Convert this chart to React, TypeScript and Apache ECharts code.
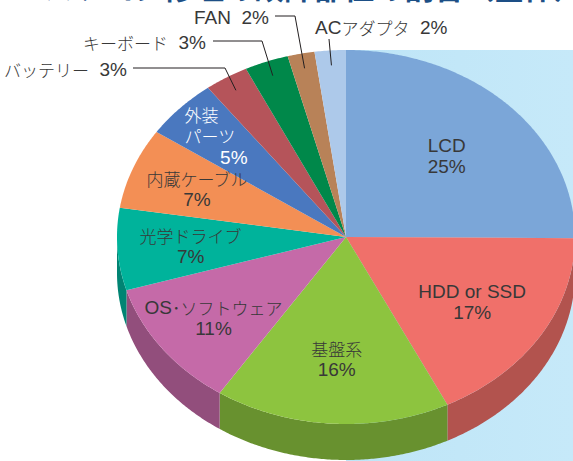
import React, { useEffect, useRef } from "react";
import * as echarts from "echarts";

// ---- data ----
const categories = [
  "LCD",
  "HDD or SSD",
  "基盤系",
  "OS･ソフトウェア",
  "光学ドライブ",
  "内蔵ケーブル",
  "外装パーツ",
  "バッテリー",
  "キーボード",
  "FAN",
  "ACアダプタ",
];
const values = [25.1, 17.6, 16.6, 11.1, 7.1, 7.0, 5.2, 3.1, 3.1, 1.9, 2.2];
const percentLabels = ["25%", "17%", "16%", "11%", "7%", "7%", "5%", "3%", "3%", "2%", "2%"];
const colors = [
  "#7BA6D8",
  "#F0706A",
  "#8DC43F",
  "#C56AA8",
  "#00B39B",
  "#F38F55",
  "#4A78BF",
  "#B5545A",
  "#00884A",
  "#B88258",
  "#ADC9EA",
];
const titleText = "パソコン修理の故障部位の割合（全体）";

// ---- layout (not data) ----
const CX = 346;
const CY = 237;
const RX = 229;
const RY = 187;
const DEPTH = 36;
const innerLabelRadius = [0.62, 0.65, 0.65, 0.72, 0.68, 0.7, 0.78];
const outerLabels: Record<number, { anchor: [number, number]; align: string; path: [number, number][] }> = {
  7: { anchor: [127, 69], align: "right", path: [[133, 68], [225, 68]] },
  8: { anchor: [206, 42], align: "right", path: [[213, 41], [262, 41]] },
  9: { anchor: [269, 17], align: "right", path: [[275, 16], [295, 16]] },
  10: { anchor: [315, 27], align: "left", path: [[329, 39]] },
};

const TEXT_COLOR = "#383838";

function pt(t: number, dy = 0, f = 1): [number, number] {
  return [CX + RX * f * Math.sin(t), CY - RY * f * Math.cos(t) + dy];
}

function shade(hex: string, k: number) {
  const n = parseInt(hex.slice(1), 16);
  const r = Math.round(((n >> 16) & 255) * k);
  const g = Math.round(((n >> 8) & 255) * k);
  const b = Math.round((n & 255) * k);
  return `rgb(${r},${g},${b})`;
}

function toRich(s: string) {
  return (s.match(/[\x00-\x7F]+|[^\x00-\x7F]+/g) || [])
    .map((p) => (/^[\x00-\x7F]/.test(p) ? `{a|${p}}` : `{j|${p}}`))
    .join("");
}

function richStyles(fill: string) {
  return {
    a: { fontFamily: "Liberation Sans", fontSize: 19, fill, lineHeight: 20 },
    j: { fontFamily: "Noto Sans CJK JP", fontWeight: 300, fontSize: 17, fill, lineHeight: 20 },
  };
}

function textEl(text: string, x: number, y: number, align: string, fill = TEXT_COLOR) {
  return {
    type: "text",
    x,
    y,
    style: {
      text: toRich(text),
      align,
      verticalAlign: "middle",
      rich: richStyles(fill),
    },
  };
}

export default function App() {
  const ref = useRef<HTMLDivElement>(null);

  useEffect(() => {
    if (!ref.current) return;
    const chart = echarts.init(ref.current, undefined, { renderer: "svg" });

    const total = values.reduce((s, v) => s + v, 0);
    const starts: number[] = [];
    const ends: number[] = [];
    let acc = 0;
    values.forEach((v) => {
      starts.push((acc / total) * Math.PI * 2);
      acc += v;
      ends.push((acc / total) * Math.PI * 2);
    });

    const arc = (a: number, b: number, dy = 0) => {
      const n = Math.max(2, Math.ceil((b - a) / (Math.PI / 360)));
      const pts: [number, number][] = [];
      for (let k = 0; k <= n; k++) pts.push(pt(a + ((b - a) * k) / n, dy));
      return pts;
    };

    const sideItem = (params: any) => {
      const i = params.dataIndex;
      const s = Math.max(starts[i], Math.PI / 2);
      const e = Math.min(ends[i], (3 * Math.PI) / 2);
      if (s >= e) return { type: "group", children: [] };
      const top = arc(s, e);
      const bottom = arc(s, e, DEPTH).reverse();
      return {
        type: "polygon",
        shape: { points: top.concat(bottom) },
        style: { fill: shade(colors[i], 0.74) },
      };
    };

    const topItem = (params: any) => {
      const i = params.dataIndex;
      const pts = [[CX, CY] as [number, number]].concat(arc(starts[i], ends[i]));
      return {
        type: "polygon",
        shape: { points: pts },
        style: { fill: colors[i] },
      };
    };

    const labelItem = (params: any) => {
      const i = params.dataIndex;
      const mid = (starts[i] + ends[i]) / 2;
      const children: any[] = [];
      if (i === 0) {
        children.push({
          type: "text",
          x: 44,
          y: 1,
          style: {
            text: titleText,
            font: 'bold 30px "Noto Sans CJK JP"',
            fill: "#1D4F86",
            align: "left",
            verticalAlign: "bottom",
          },
        });
      }
      if (outerLabels[i]) {
        const o = outerLabels[i];
        children.push(textEl(`${categories[i]}  ${percentLabels[i]}`, o.anchor[0], o.anchor[1], o.align));
        const end = pt(mid, 0, 0.92);
        children.push({
          type: "polyline",
          shape: { points: [...o.path, end] },
          style: { stroke: "#231F20", lineWidth: 1, fill: "none" },
        });
      } else if (i === 6) {
        const [lx, ly] = pt(mid, 0, innerLabelRadius[i]);
        children.push(textEl("外装", lx - 32, ly - 22, "left", "#FFFFFF"));
        children.push(textEl("パーツ", lx - 32, ly - 1, "left", "#FFFFFF"));
        children.push(textEl(percentLabels[i], lx + 31, ly + 21, "right", "#FFFFFF"));
      } else {
        const [lx, ly] = pt(mid, 0, innerLabelRadius[i]);
        children.push(textEl(categories[i], lx, ly - 10, "center"));
        children.push(textEl(percentLabels[i], lx, ly + 11, "center"));
      }
      return { type: "group", children };
    };

    const data = values.map((v, i) => ({ name: categories[i], value: v }));

    chart.setOption({
      animation: false,
      backgroundColor: "#FFFFFF",
      graphic: [
        {
          type: "rect",
          z: 0,
          shape: { x: CX, y: CY - RY, width: 573 - CX, height: 461 - (CY - RY) },
          style: {
            fill: new echarts.graphic.LinearGradient(0, 0, 1, 0, [
              { offset: 0, color: "#BEE5F7" },
              { offset: 1, color: "#C6E9F9" },
            ]),
          },
        },
      ],
      series: [
        { type: "custom", coordinateSystem: "none", z: 2, data, renderItem: sideItem, silent: true },
        { type: "custom", coordinateSystem: "none", z: 3, data, renderItem: topItem, silent: true },
        { type: "custom", coordinateSystem: "none", z: 4, data, renderItem: labelItem, silent: true },
      ],
    });

    return () => chart.dispose();
  }, []);

  return (
    <div
      ref={ref}
      style={{ position: "fixed", left: 0, top: 0, width: 573, height: 461 }}
    />
  );
}
